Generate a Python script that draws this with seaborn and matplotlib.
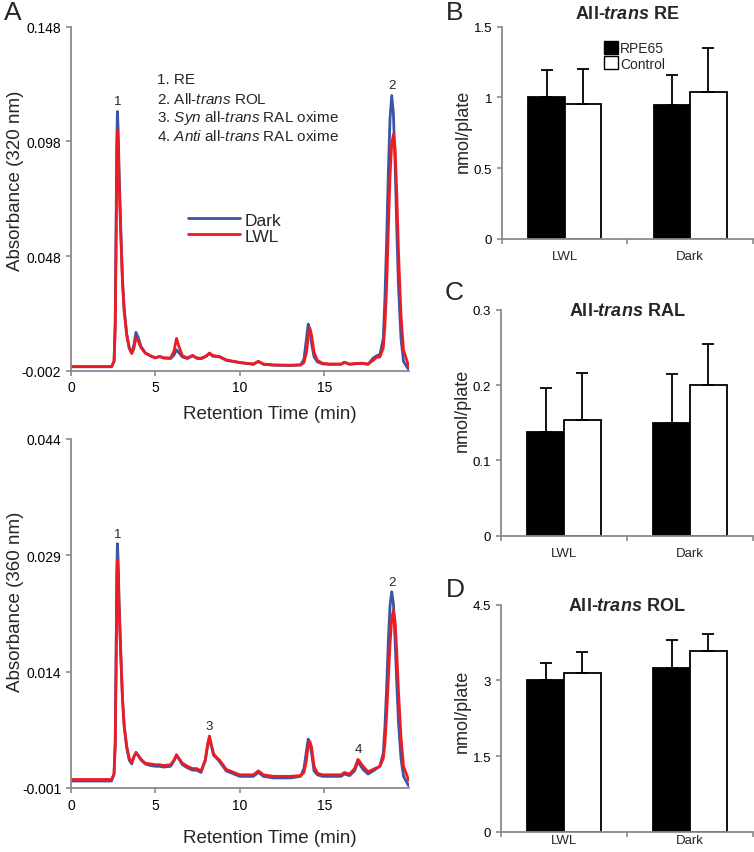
import matplotlib
matplotlib.use('Agg')
import numpy as np
import pandas as pd
import matplotlib.pyplot as plt
import seaborn as sns
from matplotlib.lines import Line2D
from matplotlib.patches import Patch
from matplotlib.ticker import FuncFormatter

# ---- HPLC traces, absorbance at 320 nm ----
t_320 = [0, 2.4, 2.55, 2.62, 2.67, 2.71, 2.75, 2.79, 2.85, 2.95,
         3.05, 3.15, 3.3, 3.45, 3.6, 3.72, 3.85, 3.98, 4.15, 4.4,
         4.7, 5.0, 5.25, 5.5, 5.9, 6.1, 6.25, 6.4, 6.6, 6.9,
         7.2, 7.45, 7.7, 8.0, 8.2, 8.4, 8.8, 9.2, 10.0, 10.8,
         11.1, 11.4, 12.0, 13.0, 13.6, 13.8, 13.95, 14.05, 14.15, 14.25,
         14.4, 14.6, 14.9, 15.3, 16.0, 16.2, 16.5, 17.2, 17.6, 17.9,
         18.1, 18.3, 18.5, 18.6, 18.7, 18.8, 18.9, 19.0, 19.1, 19.2,
         19.3, 19.4, 19.55, 19.7, 20.0]
dark_320 = [-0.0003, -0.0003, 0.002, 0.02, 0.06, 0.097, 0.111, 0.104, 0.085, 0.06,
            0.038, 0.025, 0.014, 0.008, 0.0058, 0.009, 0.0147, 0.0125, 0.0085, 0.0058,
            0.0045, 0.0036, 0.0042, 0.0035, 0.0033, 0.0048, 0.0071, 0.0058, 0.004, 0.0033,
            0.0045, 0.0034, 0.0032, 0.0042, 0.0055, 0.0043, 0.004, 0.0025, 0.0015, 0.0008,
            0.002, 0.0008, 0.0004, 0.0003, 0.0005, 0.003, 0.012, 0.0183, 0.016, 0.01,
            0.004, 0.0018, 0.001, 0.0008, 0.0008, 0.0016, 0.0008, 0.0012, 0.0008, 0.0035,
            0.0045, 0.005, 0.012, 0.030, 0.055, 0.085, 0.108, 0.118, 0.110, 0.088,
            0.060, 0.035, 0.012, 0.002, -0.0015]
lwl_320 = [-0.0002, -0.0002, 0.002, 0.016, 0.052, 0.09, 0.1028, 0.098, 0.08, 0.057,
           0.036, 0.024, 0.0135, 0.0078, 0.0055, 0.0075, 0.0125, 0.011, 0.008, 0.0057,
           0.0045, 0.0036, 0.0042, 0.0036, 0.0036, 0.0065, 0.0121, 0.0085, 0.0045, 0.0036,
           0.0047, 0.0036, 0.0034, 0.0044, 0.0057, 0.0046, 0.0042, 0.0027, 0.0016, 0.0009,
           0.0021, 0.0009, 0.0005, 0.0004, 0.0005, 0.0015, 0.006, 0.0125, 0.0165, 0.0135,
           0.006, 0.0025, 0.0012, 0.0009, 0.0009, 0.0017, 0.0009, 0.0013, 0.0009, 0.0025,
           0.0038, 0.004, 0.008, 0.018, 0.035, 0.060, 0.083, 0.097, 0.101, 0.095,
           0.075, 0.050, 0.022, 0.007, 0.0]

# ---- HPLC traces, absorbance at 360 nm ----
t_360 = [0, 2.4, 2.55, 2.62, 2.67, 2.71, 2.75, 2.79, 2.85, 2.95,
         3.05, 3.15, 3.3, 3.45, 3.6, 3.72, 3.85, 3.98, 4.15, 4.4,
         4.7, 5.0, 5.25, 5.5, 5.9, 6.1, 6.25, 6.4, 6.6, 6.9,
         7.2, 7.45, 7.7, 7.95, 8.1, 8.2, 8.3, 8.45, 8.6, 8.8,
         9.2, 10.0, 10.8, 11.1, 11.4, 12.0, 13.0, 13.6, 13.8, 13.95,
         14.05, 14.15, 14.25, 14.4, 14.6, 14.9, 15.3, 16.0, 16.2, 16.5,
         16.8, 17.0, 17.3, 17.6, 17.9, 18.1, 18.3, 18.5, 18.6, 18.7,
         18.8, 18.9, 19.0, 19.1, 19.2, 19.3, 19.4, 19.55, 19.7, 20.0]
dark_360 = [-0.0001, -0.0001, 0.0008, 0.005, 0.016, 0.0265, 0.0305, 0.0285, 0.023, 0.0165,
            0.0105, 0.007, 0.0042, 0.0026, 0.0021, 0.003, 0.0036, 0.0032, 0.0026, 0.0021,
            0.0019, 0.0018, 0.0018, 0.0017, 0.0018, 0.0025, 0.0032, 0.0027, 0.002, 0.0016,
            0.0013, 0.0013, 0.001, 0.0025, 0.0045, 0.0055, 0.0045, 0.0032, 0.0029, 0.0024,
            0.0012, 0.0005, 0.0005, 0.001, 0.0005, 0.0003, 0.0003, 0.0005, 0.0015, 0.0038,
            0.0053, 0.0048, 0.0035, 0.0012, 0.0007, 0.0005, 0.0005, 0.0005, 0.0008, 0.0006,
            0.0012, 0.0024, 0.0014, 0.0008, 0.0012, 0.0015, 0.0018, 0.0035, 0.007, 0.012,
            0.018, 0.0225, 0.0243, 0.0228, 0.018, 0.0125, 0.0075, 0.0028, 0.0005, -0.0007]
lwl_360 = [0.0001, 0.0001, 0.0008, 0.0045, 0.014, 0.0245, 0.0284, 0.027, 0.022, 0.016,
           0.0105, 0.007, 0.0044, 0.0028, 0.0023, 0.003, 0.0035, 0.0032, 0.0027, 0.0022,
           0.0021, 0.002, 0.002, 0.0019, 0.002, 0.0026, 0.0033, 0.0028, 0.0022, 0.0018,
           0.0015, 0.0015, 0.0012, 0.0026, 0.0047, 0.0057, 0.0047, 0.0034, 0.003, 0.0026,
           0.0014, 0.0007, 0.0007, 0.0012, 0.0007, 0.0005, 0.0005, 0.0006, 0.001, 0.0026,
           0.0045, 0.005, 0.0043, 0.0018, 0.0009, 0.0007, 0.0007, 0.0007, 0.001, 0.0008,
           0.0015, 0.0027, 0.0018, 0.0011, 0.0014, 0.0016, 0.0018, 0.0028, 0.0048, 0.0085,
           0.013, 0.0175, 0.0208, 0.0219, 0.0205, 0.0165, 0.0115, 0.0055, 0.0018, 0.0]

peak_legend = ["1. RE",
               "2. All-$\\mathit{trans}$ ROL",
               "3. $\\mathit{Syn}$ all-$\\mathit{trans}$ RAL oxime",
               "4. $\\mathit{Anti}$ all-$\\mathit{trans}$ RAL oxime"]
peaks_320 = [("1", 2.75), ("2", 19.0)]
peaks_360 = [("1", 2.75), ("3", 8.2), ("4", 17.0), ("2", 19.0)]

# ---- retinoid quantification (nmol/plate), mean and upper SD ----
conditions = ["LWL", "Dark"]
groups = ["RPE65", "Control"]
re_rpe65, re_rpe65_sd = [1.005, 0.949], [0.19, 0.212]
re_control, re_control_sd = [0.954, 1.041], [0.245, 0.311]
ral_rpe65, ral_rpe65_sd = [0.138, 0.150], [0.058, 0.064]
ral_control, ral_control_sd = [0.153, 0.200], [0.063, 0.054]
rol_rpe65, rol_rpe65_sd = [3.01, 3.24], [0.33, 0.56]
rol_control, rol_control_sd = [3.14, 3.58], [0.42, 0.34]

sns.set_style("ticks")
plt.rcParams['font.family'] = ['Liberation Sans', 'DejaVu Sans']
plt.rcParams['mathtext.fontset'] = 'custom'
plt.rcParams['mathtext.rm'] = 'Liberation Sans'
plt.rcParams['mathtext.it'] = 'Liberation Sans:italic'
plt.rcParams['mathtext.bf'] = 'Liberation Sans:bold'
plt.rcParams['mathtext.bfit'] = 'Liberation Sans:italic:bold'

W, H = 754, 853
SPINE = '#8a8a8a'
BLUE, RED = '#3b54a5', '#ec1c24'

fig = plt.figure(figsize=(W / 100, H / 100), dpi=100)


def px_axes(left, top, right, bottom):
    return fig.add_axes([left / W, 1 - bottom / H, (right - left) / W, (bottom - top) / H])


def style_axes(ax, tick_size):
    sns.despine(ax=ax)
    for s in ['left', 'bottom']:
        ax.spines[s].set_color(SPINE)
        ax.spines[s].set_linewidth(1.3)
    ax.tick_params(colors=SPINE, labelcolor='black', width=1.2, length=3.5,
                   direction='out', labelsize=tick_size)


def chromatogram(ax, t, dark, lwl, yticks, peaks, ylabel, ylab_y, xlab_y):
    df = pd.concat([pd.DataFrame({'time': t, 'abs': dark, 'cond': 'Dark'}),
                    pd.DataFrame({'time': t, 'abs': lwl, 'cond': 'LWL'})])
    sns.lineplot(data=df, x='time', y='abs', hue='cond', palette={'Dark': BLUE, 'LWL': RED},
                 estimator=None, sort=False, linewidth=2.0, legend=False, ax=ax)
    ax.set_xlim(0, 20)
    ax.set_ylim(yticks[0], yticks[-1])
    ax.set_yticks(yticks)
    ax.yaxis.set_major_formatter(FuncFormatter(lambda v, p: f"{v:.3f}"))
    ax.set_xticks([0, 5, 10, 15])
    style_axes(ax, 10)
    ax.set_xlabel("Retention Time (min)", fontsize=13.5)
    ax.xaxis.set_label_coords(0.59, xlab_y)
    ax.set_ylabel(ylabel, fontsize=13.5)
    ax.yaxis.set_label_coords(-0.14, ylab_y)
    for name, pt in peaks:
        i = int(np.argmin(np.abs(np.array(t) - pt)))
        y = max(dark[i], lwl[i])
        ax.annotate(name, (pt, y), xytext=(0, 3), textcoords='offset points',
                    ha='center', va='bottom', fontsize=9.5)


def retinoid_bars(ax, rpe, rpe_sd, ctrl, ctrl_sd, ymax, yticks, title, title_y, ylab_y, xpad):
    df = pd.DataFrame({'cond': conditions * 2,
                       'group': [groups[0]] * 2 + [groups[1]] * 2,
                       'val': rpe + ctrl})
    sns.barplot(data=df, x='cond', y='val', hue='group', hue_order=groups,
                palette={'RPE65': 'black', 'Control': 'white'}, edgecolor='black',
                linewidth=1.3, width=0.58, gap=0, errorbar=None, legend=False, ax=ax)
    sds = rpe_sd + ctrl_sd
    for bar, sd in zip(ax.patches, sds):
        xc = bar.get_x() + bar.get_width() / 2
        ax.errorbar(xc, bar.get_height(), yerr=[[0], [sd]], fmt='none', ecolor='black',
                    elinewidth=1.3, capsize=4, capthick=1.3)
    ax.set_xlim(-0.5, 1.5)
    ax.set_ylim(0, ymax)
    ax.set_yticks(yticks)
    ax.yaxis.set_major_formatter(FuncFormatter(lambda v, p: f"{v:g}"))
    ax.set_xticks([-0.5, 0.5, 1.5])
    ax.set_xticklabels([])
    ax.set_xticks([0, 1], minor=True)
    ax.set_xticklabels(conditions, minor=True)
    style_axes(ax, 9.5)
    ax.tick_params(axis='x', which='minor', length=0, pad=xpad, labelsize=9.5)
    ax.set_xlabel("")
    ax.set_ylabel("nmol/plate", fontsize=13)
    ax.yaxis.set_label_coords(-0.12, ylab_y)
    ax.text(0.5, title_y, title, transform=ax.transAxes, ha='center', va='center',
            fontsize=13, fontweight='bold')


# panel A
axA1 = px_axes(71, 27.7, 408.6, 371.7)
chromatogram(axA1, t_320, dark_320, lwl_320, [-0.002, 0.048, 0.098, 0.148], peaks_320,
             "Absorbance (320 nm)", 0.554, -0.10)
for k, line in enumerate(peak_legend):
    axA1.text(157 / W, 1 - (80 + 19 * k) / H, line, transform=fig.transFigure,
              ha='left', va='center', fontsize=11)
handles = [Line2D([], [], color=BLUE, lw=2), Line2D([], [], color=RED, lw=2)]
axA1.legend(handles, ["Dark", "LWL"], loc='center left', bbox_to_anchor=(0.32, 0.415),
            frameon=False, fontsize=12.5, handlelength=3.0, handletextpad=0.25,
            labelspacing=0.05, borderpad=0)

axA2 = px_axes(71, 440, 408.6, 789)
chromatogram(axA2, t_360, dark_360, lwl_360, [-0.001, 0.014, 0.029, 0.044], peaks_360,
             "Absorbance (360 nm)", 0.537, -0.117)

# panels B-D
axB = px_axes(502, 27.7, 753, 240)
retinoid_bars(axB, re_rpe65, re_rpe65_sd, re_control, re_control_sd, 1.5, [0, 0.5, 1, 1.5],
              "All-$\\mathbfit{trans}$ RE", 1.06, 0.514, 8)
axB.legend([Patch(facecolor='black', edgecolor='black'), Patch(facecolor='white', edgecolor='black')],
           groups, loc='upper left', bbox_to_anchor=(0.38, 0.965), frameon=False, fontsize=10,
           handlelength=1.0, handleheight=1.1, handletextpad=0.15, labelspacing=0.05, borderpad=0)

axC = px_axes(501, 310.7, 753, 536.7)
retinoid_bars(axC, ral_rpe65, ral_rpe65_sd, ral_control, ral_control_sd, 0.3, [0, 0.1, 0.2, 0.3],
              "All-$\\mathbfit{trans}$ RAL", 0.996, 0.558, 8)

axD = px_axes(501, 605.7, 753, 832.7)
retinoid_bars(axD, rol_rpe65, rol_rpe65_sd, rol_control, rol_control_sd, 4.5, [0, 1.5, 3, 4.5],
              "All-$\\mathbfit{trans}$ ROL", 0.996, 0.536, 2)

for letter, x, y in [("A", 4, 1), ("B", 446, 1), ("C", 445, 281), ("D", 446, 578)]:
    fig.text(x / W, 1 - y / H, letter, fontsize=19, ha='left', va='top')

fig.savefig("out.png", dpi=100)
